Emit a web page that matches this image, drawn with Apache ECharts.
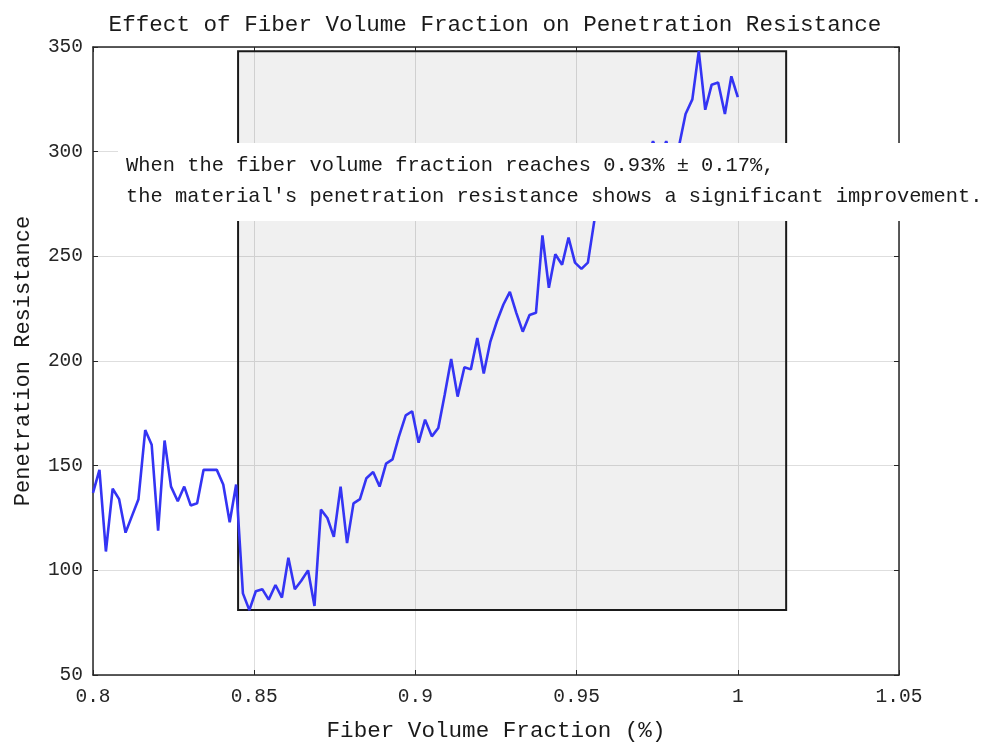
<!DOCTYPE html>
<html>
<head>
<meta charset="utf-8">
<title>Fiber Volume Fraction</title>
<script src="https://cdn.jsdelivr.net/npm/echarts@6/dist/echarts.min.js"></script>
<style>
  html, body { margin: 0; padding: 0; background: #fff; }
  #main { width: 990px; height: 748px; }
</style>
</head>
<body>
<div id="main"></div>
<script>
// fiber volume fraction (%)
var fraction = [
  0.8000, 0.8020, 0.8040, 0.8061, 0.8081, 0.8101, 0.8121, 0.8141, 0.8162, 0.8182,
  0.8202, 0.8222, 0.8242, 0.8263, 0.8283, 0.8303, 0.8323, 0.8343, 0.8364, 0.8384,
  0.8404, 0.8424, 0.8444, 0.8465, 0.8485, 0.8505, 0.8525, 0.8545, 0.8566, 0.8586,
  0.8606, 0.8626, 0.8646, 0.8667, 0.8687, 0.8707, 0.8727, 0.8747, 0.8768, 0.8788,
  0.8808, 0.8828, 0.8848, 0.8869, 0.8889, 0.8909, 0.8929, 0.8949, 0.8970, 0.8990,
  0.9010, 0.9030, 0.9051, 0.9071, 0.9091, 0.9111, 0.9131, 0.9152, 0.9172, 0.9192,
  0.9212, 0.9232, 0.9253, 0.9273, 0.9293, 0.9313, 0.9333, 0.9354, 0.9374, 0.9394,
  0.9414, 0.9434, 0.9455, 0.9475, 0.9495, 0.9515, 0.9535, 0.9556, 0.9576, 0.9596,
  0.9616, 0.9636, 0.9657, 0.9677, 0.9697, 0.9717, 0.9737, 0.9758, 0.9778, 0.9798,
  0.9818, 0.9838, 0.9859, 0.9879, 0.9899, 0.9919, 0.9939, 0.9960, 0.9980, 1.0000
];
// penetration resistance
var resistance = [
  137, 148, 109, 139, 134, 118, 126, 134, 167, 160,
  119, 162, 140, 133, 140, 131, 132, 148, 148, 148,
  141, 123, 141, 89, 81, 90, 91, 86, 93, 87,
  106, 91, 95, 100, 83, 129, 125, 116, 140, 113,
  132, 134, 144, 147, 140, 151, 153, 164, 174, 176,
  161, 172, 164, 168, 184, 201, 183, 197, 196, 211,
  194, 209, 219, 227, 233, 223, 214, 222, 223, 260,
  235, 251, 246, 259, 247, 244, 247, 268, 272, 280,
  276, 285, 290, 284, 295, 296, 305, 297, 305, 294,
  303, 318, 325, 348, 320, 332, 333, 318, 336, 326
];
// highlighted region: 0.93 +/- 0.085
var bandStart = 0.845;
var bandEnd = 1.015;
var xTicks = [0.8, 1.05, 0.05];   // min, max, step
var yTicks = [50, 350, 50];

var noteText = 'When the fiber volume fraction reaches 0.93% \u00b1 0.17%,\n' +
               "the material's penetration resistance shows a significant improvement.";

var points = [];
var bandMin = Infinity, bandMax = -Infinity;
for (var i = 0; i < fraction.length; i++) {
  points.push([fraction[i], resistance[i]]);
  if (fraction[i] >= bandStart && fraction[i] <= bandEnd) {
    bandMin = Math.min(bandMin, resistance[i]);
    bandMax = Math.max(bandMax, resistance[i]);
  }
}

var mono = '"Liberation Mono", "DejaVu Sans Mono", monospace';
var ink = '#262626';

var myChart = echarts.init(document.getElementById('main'));

var option = {
  backgroundColor: '#fff',
  animation: false,
  title: {
    text: 'Effect of Fiber Volume Fraction on Penetration Resistance',
    left: 'center',
    top: 9,
    textStyle: { fontFamily: mono, fontSize: 22.6, fontWeight: 'normal', color: '#1a1a1a' }
  },
  grid: { left: 93, right: 91, top: 47, bottom: 72, containLabel: false },
  xAxis: [{
    type: 'value',
    min: xTicks[0], max: xTicks[1], interval: xTicks[2],
    name: 'Fiber Volume Fraction (%)',
    nameLocation: 'middle',
    nameGap: 45,
    nameTextStyle: { fontFamily: mono, fontSize: 22.6, color: '#1a1a1a' },
    axisLine: { show: true, onZero: false, lineStyle: { color: ink, width: 1.5 } },
    axisTick: { show: true, inside: true, length: 5, lineStyle: { color: ink } },
    axisLabel: { fontFamily: mono, fontSize: 19.5, color: ink, margin: 12 },
    splitLine: { show: true, lineStyle: { color: '#dedede', width: 1 } }
  }, {
    type: 'value',
    position: 'top',
    min: xTicks[0], max: xTicks[1], interval: xTicks[2],
    axisLine: { show: true, onZero: false, lineStyle: { color: ink, width: 1.5 } },
    axisTick: { show: true, inside: true, length: 5, lineStyle: { color: ink } },
    axisLabel: { show: false },
    splitLine: { show: false }
  }],
  yAxis: [{
    type: 'value',
    min: yTicks[0], max: yTicks[1], interval: yTicks[2],
    name: 'Penetration Resistance',
    nameLocation: 'middle',
    nameGap: 59,
    nameTextStyle: { fontFamily: mono, fontSize: 22, color: '#1a1a1a' },
    axisLine: { show: true, onZero: false, lineStyle: { color: ink, width: 1.5 } },
    axisTick: { show: true, inside: true, length: 5, lineStyle: { color: ink } },
    axisLabel: { fontFamily: mono, fontSize: 19.5, color: ink, margin: 10 },
    splitLine: { show: true, lineStyle: { color: '#dedede', width: 1 } }
  }, {
    type: 'value',
    position: 'right',
    min: yTicks[0], max: yTicks[1], interval: yTicks[2],
    axisLine: { show: true, onZero: false, lineStyle: { color: ink, width: 1.5 } },
    axisTick: { show: true, inside: true, length: 5, lineStyle: { color: ink } },
    axisLabel: { show: false },
    splitLine: { show: false }
  }],
  series: [{
    name: 'Penetration Resistance',
    type: 'line',
    data: points,
    showSymbol: false,
    symbol: 'none',
    lineStyle: { color: '#3434f4', width: 2.6 },
    z: 3,
    markArea: {
      silent: true,
      itemStyle: { color: 'rgba(0,0,0,0.06)', borderColor: '#1a1a1a', borderWidth: 2 },
      data: [[{ xAxis: bandStart, yAxis: bandMin }, { xAxis: bandEnd, yAxis: bandMax }]]
    }
  }],
  // note box sits on top of the line, like the original annotation
  graphic: [{
    type: 'rect',
    z: 100,
    shape: { x: 118, y: 143, width: 880, height: 78 },
    style: { fill: '#fff' }
  }, {
    type: 'text',
    z: 101,
    x: 126, y: 150,
    style: {
      text: noteText,
      font: '20.4px ' + mono,
      lineHeight: 31,
      fill: '#1a1a1a'
    }
  }]
};

myChart.setOption(option);
</script>
</body>
</html>
